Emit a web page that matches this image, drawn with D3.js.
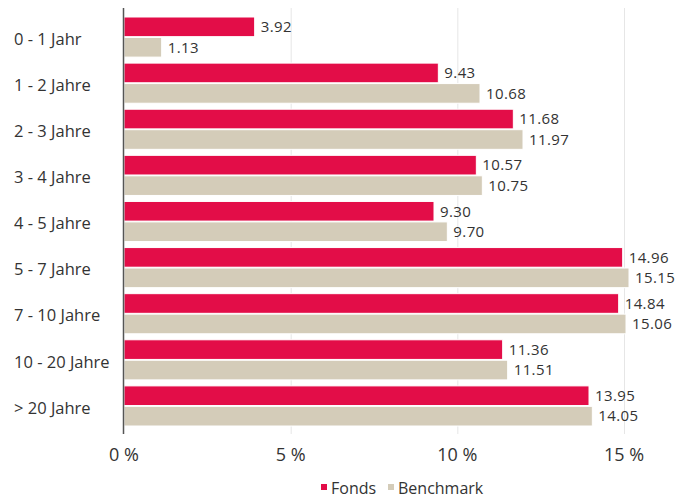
<!DOCTYPE html>
<html>
<head>
<meta charset="utf-8">
<script src="https://cdn.jsdelivr.net/npm/d3@7"></script>
<style>
  body { margin: 0; background: #fff; }
  svg { display: block; font-family: "Open Sans", sans-serif; }
</style>
</head>
<body>
<div id="chart"></div>
<script>
const categories = ["0 - 1 Jahr", "1 - 2 Jahre", "2 - 3 Jahre", "3 - 4 Jahre", "4 - 5 Jahre",
  "5 - 7 Jahre", "7 - 10 Jahre", "10 - 20 Jahre", "> 20 Jahre"];
const fonds = [3.92, 9.43, 11.68, 10.57, 9.30, 14.96, 14.84, 11.36, 13.95];
const benchmark = [1.13, 10.68, 11.97, 10.75, 9.70, 15.15, 15.06, 11.51, 14.05];
const xTicks = [0, 5, 10, 15];
const seriesNames = ["Fonds", "Benchmark"];
const colors = ["#e30d48", "#d4ccb9"];

const width = 688, height = 498;
const svg = d3.select("#chart").append("svg").attr("width", width).attr("height", height);

const x = d3.scaleLinear().domain([0, 15]).range([124, 624]);
const y = d3.scaleBand().domain(categories).range([15, 430]);
const inner = d3.scaleBand().domain(seriesNames).range([2, y.bandwidth() - 4]).paddingInner(0.04);

// gridlines
svg.append("g").selectAll("line").data(xTicks.slice(1)).join("line")
  .attr("x1", d => x(d) + 0.5).attr("x2", d => x(d) + 0.5)
  .attr("y1", 8).attr("y2", 434)
  .attr("stroke", "#e6e6e6");

const groups = svg.append("g").selectAll("g").data(categories).join("g")
  .attr("transform", d => `translate(0,${y(d)})`);

const series = [fonds, benchmark];
series.forEach((vals, si) => {
  const name = seriesNames[si];
  groups.append("rect")
    .attr("x", x(0))
    .attr("y", inner(name))
    .attr("height", inner.bandwidth())
    .attr("width", (d, i) => x(vals[i]) - x(0))
    .attr("fill", colors[si])
    .attr("stroke", "#fff").attr("stroke-width", 1);
  groups.append("text")
    .attr("x", (d, i) => x(vals[i]) + 6)
    .attr("y", inner(name) + inner.bandwidth() / 2)
    .attr("dy", "0.35em")
    .attr("font-size", 15)
    .attr("letter-spacing", 0.4)
    .attr("fill", "#333")
    .text((d, i) => vals[i].toFixed(2));
});

// category labels
groups.append("text")
  .attr("x", 14)
  .attr("y", y.bandwidth() / 2 + 1)
  .attr("dy", "0.35em")
  .attr("font-size", 16.5)
  .attr("fill", "#333")
  .text(d => d)
  .each(function () {
    const w = this.getComputedTextLength();
    if (14 + w > 115) d3.select(this).attr("x", 115 - w);
  });

// y axis line
svg.append("line")
  .attr("x1", x(0) - 0.5).attr("x2", x(0) - 0.5)
  .attr("y1", 8).attr("y2", 434)
  .attr("stroke", "#555").attr("stroke-width", 1.5);

// x tick labels
svg.append("g").selectAll("text").data(xTicks).join("text")
  .attr("x", d => x(d))
  .attr("y", 455)
  .attr("dy", "0.35em")
  .attr("text-anchor", "middle")
  .attr("font-size", 18)
  .attr("fill", "#333")
  .text(d => d + " %");

// legend
const legend = svg.append("g").attr("transform", "translate(0,488)");
const items = [{ name: "Fonds", x: 321 }, { name: "Benchmark", x: 388 }];
items.forEach((it, i) => {
  legend.append("rect").attr("x", it.x).attr("y", -4).attr("width", 6).attr("height", 6).attr("fill", colors[i]);
  legend.append("text").attr("x", it.x + 10).attr("y", 0).attr("dy", "0.35em")
    .attr("font-size", 16).attr("fill", "#333").text(it.name);
});
</script>
</body>
</html>
